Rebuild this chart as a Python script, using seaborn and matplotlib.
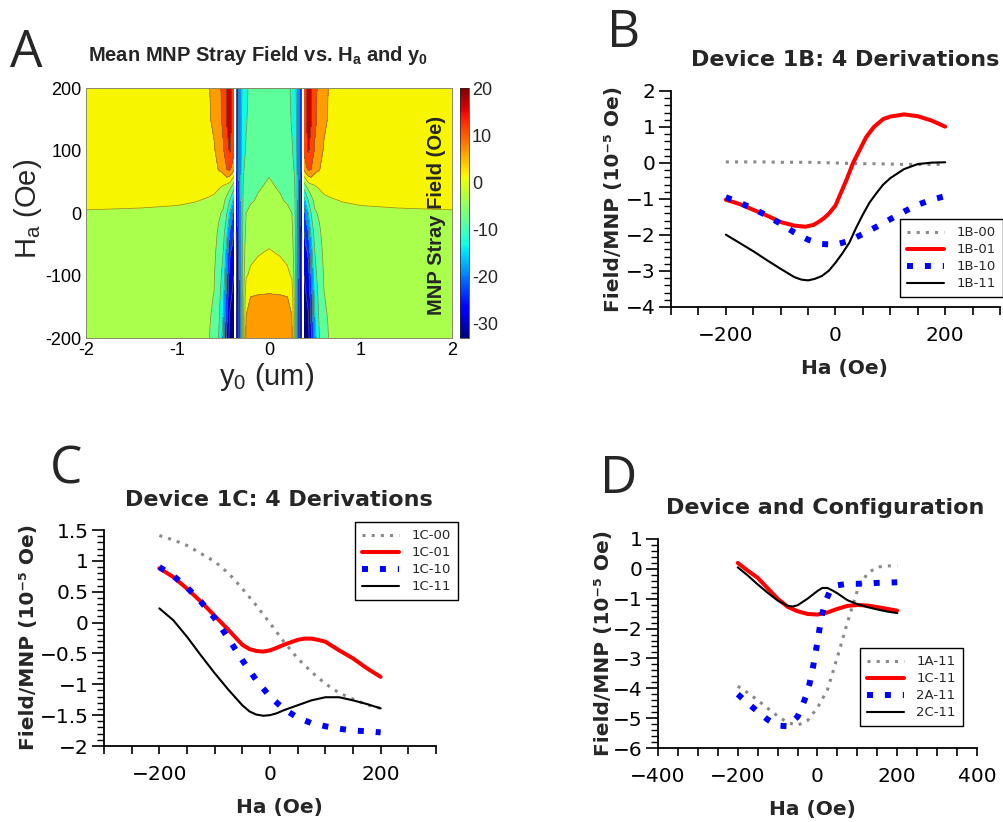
import numpy as np
import matplotlib
matplotlib.use("Agg")
import matplotlib.pyplot as plt
import seaborn as sns
from matplotlib.ticker import FixedLocator, MultipleLocator, FuncFormatter
from matplotlib.cm import ScalarMappable
from matplotlib.colors import Normalize

sns.set_style("ticks")
plt.rcParams['font.family'] = ['DejaVu Sans']
plt.rcParams['mathtext.fontset'] = 'custom'
plt.rcParams['mathtext.rm'] = 'Liberation Sans'
plt.rcParams['mathtext.it'] = 'Liberation Sans:italic'
plt.rcParams['mathtext.bf'] = 'Liberation Sans:bold'

# ---------------- Panel A data (field map, left half; right half mirrors) ----
A_Y0_HALF = [-2.0, -1.4, -1.0, -0.8, -0.66, -0.6, -0.55, -0.5, -0.46, -0.43,
             -0.40, -0.385, -0.375, -0.36, -0.34, -0.32, -0.30, -0.28, -0.25,
             -0.2, -0.12, 0.0]
A_HA = [200, 150, 100, 70, 55, 40, 20, 0, -30, -60, -100, -135, -170, -200]
NAN = float('nan')
A_FIELD_HALF = [
    [3, 3, 2.8, 2.5, 2.3, 2, 1.5, -0.5, -1.5, -2, -2.5, -3, -3, -3],
    [3, 3, 2.8, 2.5, 2.3, 2, 1.2, -0.8, -1.7, -2.2, -2.7, -3, -3.2, -3.3],
    [3.2, 3, 2.8, 2.5, 2.2, 1.8, 0.8, -1.2, -2, -2.5, -3, -3.3, -3.5, -3.6],
    [3.6, 3.4, 3, 2.6, 2.3, 1.5, 0.2, -1.6, -2.4, -2.9, -3.4, -3.8, -4, -4.2],
    [4.6, 4.4, 3.8, 3, 2.5, 1.3, -0.5, -2.2, -3.2, -3.7, -4.2, -4.6, -4.8, -4.9],
    [6.5, 6, 4.5, 3.5, 2.5, 1.2, -1.2, -3, -3.8, -4.3, -4.8, -5.1, -5.4, -5.6],
    [9, 8.5, 7, 5.2, 3, 0.3, -2.5, -4.5, -5.5, -6.2, -7.2, -8.2, -9.2, -10.3],
    [11, 11, 9.5, 7, 2.5, -1, -4, -5.5, -8, -10, -12, -14, -15.5, -17],
    [15.5, 15.5, 13, 10, 4, -3, -6.5, -10, -14, -17, -20, -22.5, -24.5, -26],
    [18, 17.5, 15.5, 11, 3, -4, -10, -15, -20, -24, -27, -29, -30.5, -31.5],
    [14, 14, 13, 8, 0, -7, -14, -19, -23, -26, -29, -30.5, -31.5, -32],
    [12, 12, 11, 6, -2, -9, -17, -22, -25, -27, -30, -31, -32, -32.5],
    [NAN, NAN, NAN, NAN, NAN, NAN, NAN, NAN, NAN, NAN, NAN, NAN, NAN, NAN],
    [-26, -26, -26.5, -27, -27.5, -28, -28.5, -29, -30, -30.5, -31, -31.5, -32, -32],
    [-22, -22, -22.5, -23, -23, -23.5, -24, -25, -25.5, -26, -27, -27.5, -28, -28],
    [-18, -18, -18, -18, -18, -18, -18.5, -19, -19.5, -20, -21, -21.5, -22, -22],
    [-15.5, -15, -14.5, -14, -13.5, -13.5, -13.5, -13.5, -13.5, -13.5, -14, -14, -14, -14],
    [-13, -12.5, -11.5, -10.5, -10, -9.5, -9, -8.5, -8, -7.5, -7, -6.5, -6.2, -6],
    [-11, -10.5, -9.5, -8.5, -8, -7.5, -6.5, -5, -4, -2.5, -0.5, 3.5, 5.3, 6],
    [-8.5, -8, -7.5, -7, -6.5, -6, -5.3, -4.3, -3, -1.5, 1, 5.1, 7, 7.5],
    [-7, -6.8, -6.3, -5.8, -5.6, -5.2, -4.7, -3.5, -2.2, -0.6, 2, 5.4, 7.5, 8],
    [-6.5, -6.3, -5.8, -5.3, -4.95, -4.6, -4, -3.2, -1.8, 0.2, 2.5, 5.5, 7.8, 8.5],
]
A_LEVELS = [-35, -30, -25, -20, -15, -10, -5, 0, 5, 10, 15, 20]
A_CBAR_TICKS = [-30, -20, -10, 0, 10, 20]
A_XTICKS = [-2, -1, 0, 1, 2]
A_YTICKS = [-200, -100, 0, 100, 200]

# ---------------- Panel B ----------------
B_HA = [-200, -175, -150, -125, -100, -75, -50, -25, 0, 25, 50, 75, 100, 125, 150, 175, 200]
B_00 = [0.03, 0.03, 0.03, 0.03, 0.02, 0.02, 0.02, 0.01, 0.0, -0.01, -0.02, -0.02, -0.03, -0.04, -0.04, -0.04, -0.04]
B_01_HA = [-200, -175, -150, -125, -100, -75, -55, -40, -29, -20, -11, 0, 7, 20, 32, 44, 56, 70, 87, 100, 125, 150, 175, 200]
B_01 = [-1.02, -1.14, -1.30, -1.46, -1.64, -1.74, -1.77, -1.72, -1.62, -1.52, -1.39, -1.18, -0.93, -0.47, 0.0, 0.36, 0.72, 1.0, 1.22, 1.29, 1.35, 1.30, 1.18, 1.01]
B_10 = [-0.95, -1.10, -1.27, -1.46, -1.69, -1.93, -2.13, -2.25, -2.27, -2.16, -1.97, -1.77, -1.56, -1.35, -1.16, -1.02, -0.92]
B_11_HA = [-200, -175, -150, -125, -100, -75, -62, -50, -38, -25, -12, 0, 12, 25, 37, 50, 62, 75, 87, 100, 125, 150, 175, 200]
B_11 = [-1.99, -2.22, -2.45, -2.70, -2.94, -3.17, -3.24, -3.26, -3.22, -3.14, -2.99, -2.77, -2.52, -2.22, -1.82, -1.43, -1.10, -0.83, -0.60, -0.42, -0.17, -0.03, 0.01, 0.02]
B_LABELS = ["1B-00", "1B-01", "1B-10", "1B-11"]
B_XTICKS = [-200, 0, 200]
B_YTICKS = [-4, -3, -2, -1, 0, 1, 2]

# ---------------- Panel C ----------------
C_HA = [-200, -175, -150, -125, -100, -75, -50, -25, 0, 25, 50, 75, 100, 125, 150, 175, 200]
C_00 = [1.41, 1.34, 1.25, 1.12, 0.99, 0.80, 0.55, 0.28, -0.01, -0.31, -0.58, -0.80, -0.99, -1.14, -1.24, -1.33, -1.39]
C_01_HA = [-200, -175, -150, -125, -100, -75, -50, -37, -25, -12, 0, 12, 25, 50, 62, 75, 87, 100, 125, 150, 175, 200]
C_01 = [0.88, 0.74, 0.55, 0.34, 0.11, -0.12, -0.36, -0.43, -0.46, -0.47, -0.45, -0.41, -0.36, -0.28, -0.26, -0.26, -0.28, -0.31, -0.45, -0.58, -0.74, -0.88]
C_10 = [0.90, 0.76, 0.57, 0.34, 0.07, -0.26, -0.61, -0.93, -1.20, -1.40, -1.54, -1.63, -1.68, -1.72, -1.75, -1.76, -1.78]
C_11_HA = [-200, -175, -150, -125, -100, -75, -50, -37, -25, -12, 0, 12, 25, 50, 75, 100, 125, 150, 175, 200]
C_11 = [0.23, 0.04, -0.23, -0.53, -0.82, -1.09, -1.34, -1.44, -1.49, -1.51, -1.50, -1.47, -1.42, -1.34, -1.26, -1.21, -1.21, -1.26, -1.32, -1.39]
C_LABELS = ["1C-00", "1C-01", "1C-10", "1C-11"]
C_XTICKS = [-200, 0, 200]
C_YTICKS = [-2, -1.5, -1, -0.5, 0, 0.5, 1, 1.5]

# ---------------- Panel D ----------------
D_HA = [-200, -175, -150, -125, -100, -75, -50, -25, 0, 25, 50, 75, 100, 125, 150, 175, 200]
D_1A = [-3.93, -4.15, -4.40, -4.67, -4.93, -5.15, -5.24, -5.08, -4.65, -4.05, -2.95, -1.80, -0.72, -0.15, 0.06, 0.10, 0.10]
D_1C = [0.20, -0.06, -0.30, -0.65, -1.00, -1.27, -1.42, -1.51, -1.53, -1.46, -1.34, -1.24, -1.21, -1.23, -1.28, -1.34, -1.40]
D_2A_HA = [-200, -175, -150, -125, -100, -75, -50, -40, -30, -20, -10, 0, 10, 20, 30, 40, 50, 75, 100, 125, 150, 175, 200]
D_2A = [-4.20, -4.50, -4.78, -5.05, -5.25, -5.27, -4.95, -4.66, -4.30, -3.85, -3.20, -2.44, -1.60, -1.10, -0.78, -0.62, -0.55, -0.50, -0.50, -0.49, -0.47, -0.46, -0.45]
D_2C_HA = [-200, -175, -150, -125, -100, -75, -62, -50, -25, 0, 12, 25, 37, 50, 75, 100, 125, 150, 175, 200]
D_2C = [0.05, -0.22, -0.52, -0.80, -1.06, -1.24, -1.26, -1.22, -1.00, -0.74, -0.64, -0.64, -0.72, -0.82, -1.05, -1.18, -1.28, -1.36, -1.43, -1.48]
D_LABELS = ["1A-11", "1C-11", "2A-11", "2C-11"]
D_XTICKS = [-400, -200, 0, 200, 400]
D_YTICKS = [-6, -5, -4, -3, -2, -1, 0, 1]

# ---------------- figure ----------------
W, H = 1004, 822
fig = plt.figure(figsize=(W / 100, H / 100), dpi=100)


def ax_px(l, t, r, b):
    return fig.add_axes([l / W, 1 - b / H, (r - l) / W, (b - t) / H])


def ftext(x, y, s, **kw):
    return fig.text(x / W, 1 - y / H, s, **kw)


# ---------- Panel A ----------
axA = ax_px(86, 88, 452, 338)
y0_full = np.array(A_Y0_HALF + [-v for v in A_Y0_HALF[-2::-1]])
cols = A_FIELD_HALF + A_FIELD_HALF[-2::-1]
Z = np.array(cols, dtype=float).T
norm = Normalize(vmin=-33, vmax=20)
# filled bands coloured slightly below their mid value (MATLAB-like look)
band_norm = Normalize(vmin=-32, vmax=21)
axA.contourf(y0_full, np.array(A_HA), Z, levels=A_LEVELS, cmap='jet', norm=band_norm)
axA.contour(y0_full, np.array(A_HA), Z, levels=A_LEVELS, colors='#6b6b3a',
            linewidths=0.5, linestyles='solid', alpha=0.8)
axA.set_xlim(-2, 2)
axA.set_ylim(-200, 200)
hy = FuncFormatter(lambda v, p: f"{v:g}")
axA.xaxis.set_major_locator(FixedLocator(A_XTICKS))
axA.yaxis.set_major_locator(FixedLocator(A_YTICKS))
axA.xaxis.set_major_formatter(hy)
axA.yaxis.set_major_formatter(hy)
axA.tick_params(direction='in', length=4, width=0.6, labelsize=13,
                labelfontfamily='Liberation Sans', pad=3, colors='black')
for s in axA.spines.values():
    s.set_visible(True)
    s.set_linewidth(0.7)
    s.set_color('#8a8a6a')

cax = ax_px(460, 88, 469, 338)
cb = fig.colorbar(ScalarMappable(norm=norm, cmap='jet'), cax=cax, ticks=A_CBAR_TICKS)
cb.ax.yaxis.set_major_formatter(hy)
cb.ax.tick_params(labelsize=13, length=2, width=0.5, direction='in',
                  labelfontfamily='Liberation Sans', pad=2)
cb.outline.set_linewidth(0.5)

ftext(258, 61, 'Mean MNP Stray Field vs. H$_\\mathbf{a}$ and y$_\\mathbf{0}$',
      ha='center', va='baseline', fontsize=14.5, fontweight='bold', family='Liberation Sans')
ftext(28, 209, 'H$_\\mathrm{a}$ (Oe)', rotation=90, ha='center', va='center',
      fontsize=21, family='Liberation Sans')
ftext(267, 377, 'y$_\\mathrm{0}$ (um)', ha='center', va='center',
      fontsize=21, family='Liberation Sans')
ftext(437, 215, 'MNP Stray Field (Oe)', rotation=90, ha='center', va='center',
      fontsize=14.5, fontweight='bold', family='Liberation Sans')

# ---------- line panels ----------
GRAY = '#8a8a8a'
STYLES = [
    dict(color=GRAY, linewidth=2.2, linestyle=(0, (1, 2)), dash_capstyle='butt'),
    dict(color='#ff0000', linewidth=2.9, linestyle='-', solid_joinstyle='round'),
    dict(color='#0000ff', linewidth=4.3, linestyle=(0, (1, 2)), dash_capstyle='butt'),
    dict(color='black', linewidth=1.5, linestyle='-', solid_joinstyle='round'),
]
umin = FuncFormatter(lambda v, p: f"{v:g}".replace('-', '\u2212'))


def line_panel(ax, xs_list, ys_list, labels, xlim, xticks, xminor, ylim, yticks, yminor, leg_xy):
    for xs, ys, lab, st in zip(xs_list, ys_list, labels, STYLES):
        sns.lineplot(x=xs, y=ys, ax=ax, label=lab, estimator=None, sort=False, **st)
    ax.set_xlim(*xlim)
    ax.set_ylim(*ylim)
    ax.xaxis.set_major_locator(FixedLocator(xticks))
    ax.xaxis.set_minor_locator(MultipleLocator(xminor))
    ax.yaxis.set_major_locator(FixedLocator(yticks))
    ax.yaxis.set_minor_locator(MultipleLocator(yminor))
    ax.xaxis.set_major_formatter(umin)
    ax.yaxis.set_major_formatter(umin)
    ax.set_xlabel('')
    ax.set_ylabel('')
    ax.spines['top'].set_visible(False)
    ax.spines['right'].set_visible(False)
    for k in ('left', 'bottom'):
        ax.spines[k].set_linewidth(1.3)
        ax.spines[k].set_color('black')
    ax.tick_params(axis='x', which='both', direction='out', length=6, width=1.2,
                   labelsize=14.5, pad=8, colors='black')
    ax.tick_params(axis='y', which='major', direction='out', length=9, width=1.2,
                   labelsize=14.5, pad=2, colors='black')
    ax.tick_params(axis='y', which='minor', direction='out', length=5, width=1.0, colors='black')
    h, l = ax.get_legend_handles_labels()
    leg = ax.legend(h, l, loc='upper left', bbox_to_anchor=(leg_xy[0] / W, 1 - leg_xy[1] / H),
                    bbox_transform=fig.transFigure, fontsize=9.5, frameon=True, fancybox=False,
                    edgecolor='black', framealpha=1, handlelength=2.8, borderpad=0.55,
                    labelspacing=0.3, handletextpad=0.9, borderaxespad=0)
    leg.get_frame().set_linewidth(1.0)


axB = ax_px(671, 91, 1000, 307)
line_panel(axB, [B_HA, B_01_HA, B_HA, B_11_HA], [B_00, B_01, B_10, B_11], B_LABELS,
           (-300, 300), B_XTICKS, 50, (-4, 2), B_YTICKS, 0.2, (900, 219))
axC = ax_px(104, 530, 436, 746)
line_panel(axC, [C_HA, C_01_HA, C_HA, C_11_HA], [C_00, C_01, C_10, C_11], C_LABELS,
           (-300, 300), C_XTICKS, 50, (-2, 1.5), C_YTICKS, 0.1, (355, 522))
axD = ax_px(658, 539, 977, 748)
line_panel(axD, [D_HA, D_HA, D_2A_HA, D_2C_HA], [D_1A, D_1C, D_2A, D_2C], D_LABELS,
           (-400, 400), D_XTICKS, 50, (-6, 1), D_YTICKS, 0.2, (860, 648))

YLAB = 'Field/MNP (10\u207b\u2075 Oe)'
ftext(613, 199, YLAB, rotation=90, ha='center', va='center', fontsize=14.5, fontweight='bold')
ftext(29, 637, YLAB, rotation=90, ha='center', va='center', fontsize=14.5, fontweight='bold')
ftext(604, 643, YLAB, rotation=90, ha='center', va='center', fontsize=14.5, fontweight='bold')
ftext(844, 374, 'Ha (Oe)', ha='center', va='baseline', fontsize=14.5, fontweight='bold')
ftext(279, 813, 'Ha (Oe)', ha='center', va='baseline', fontsize=14.5, fontweight='bold')
ftext(812, 815, 'Ha (Oe)', ha='center', va='baseline', fontsize=14.5, fontweight='bold')

ftext(845, 66.5, 'Device 1B: 4 Derivations', ha='center', va='baseline', fontsize=16, fontweight='bold')
ftext(279, 505.5, 'Device 1C: 4 Derivations', ha='center', va='baseline', fontsize=16, fontweight='bold')
ftext(825, 514, 'Device and Configuration', ha='center', va='baseline', fontsize=16, fontweight='bold')

for letter, x, y in [('A', 10, 67), ('B', 607, 47), ('C', 50, 483), ('D', 600, 493)]:
    ftext(x, y, letter, ha='left', va='baseline', fontsize=37, family='Open Sans')

fig.savefig('out.png', dpi=100)
